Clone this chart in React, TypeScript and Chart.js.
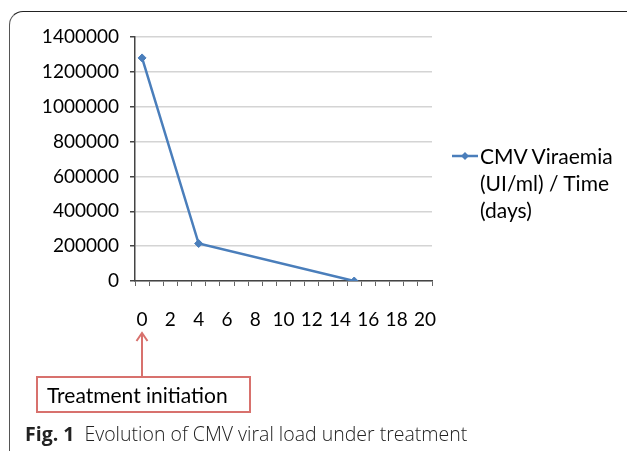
import React, { useEffect, useRef } from "react";
import { Chart, registerables } from "chart.js";

Chart.register(...registerables);

const dayLabels = ["0","1","2","3","4","5","6","7","8","9","10","11","12","13","14","15","16","17","18","19","20"];
const days = ["0", "4", "15"];
const viraemia = [1280000, 215000, 0];
const yTicks = [0, 200000, 400000, 600000, 800000, 1000000, 1200000, 1400000];
const seriesName = ["CMV Viraemia", "(UI/ml) / Time", "(days)"];
const annotationText = "Treatment initiation";
const captionBold = "Fig. 1";
const captionText = "Evolution of CMV viral load under treatment";

const LINE = "#4a7ebb";
const RED = "#d8716d";
const FONT = "Lato, 'Open Sans', sans-serif";

export default function App() {
  const ref = useRef<HTMLCanvasElement | null>(null);

  useEffect(() => {
    if (!ref.current) return;
    const chart = new Chart(ref.current, {
      type: "line",
      data: {
        labels: dayLabels,
        datasets: [
          {
            label: seriesName.join(" "),
            data: days.map((d, i) => ({ x: d, y: viraemia[i] })) as any,
            borderColor: LINE,
            backgroundColor: LINE,
            borderWidth: 2.5,
            pointStyle: "rectRot",
            pointRadius: 4,
            pointBackgroundColor: LINE,
            pointBorderColor: LINE,
            pointBorderWidth: 1,
            tension: 0,
          },
        ],
      },
      options: {
        animation: false,
        responsive: false,
        maintainAspectRatio: false,
        layout: { padding: { top: 37, right: 195, left: 0, bottom: 0 } },
        plugins: { legend: { display: false }, tooltip: { enabled: false } },
        scales: {
          x: {
            type: "category",
            offset: true,
            afterFit: (s: any) => { s.height = 170; },
            grid: {
              offset: true,
              drawOnChartArea: false,
              drawTicks: true,
              tickLength: 5,
              tickColor: "#666",
              tickWidth: 1,
            },
            border: { display: true, color: "#444", width: 1.5 },
            ticks: {
              autoSkip: false,
              maxRotation: 0,
              padding: 22,
              color: "#000",
              font: { family: FONT, size: 19 },
              callback: (_v: any, i: number) => (i % 2 === 0 ? dayLabels[i] : ""),
            },
          },
          y: {
            min: yTicks[0],
            max: yTicks[yTicks.length - 1],
            afterFit: (s: any) => { s.width = 135; },
            afterBuildTicks: (s: any) => { s.ticks = yTicks.map((v) => ({ value: v })); },
            grid: {
              color: "#d4d4d4",
              lineWidth: 1.5,
              drawTicks: true,
              tickLength: 5,
              tickColor: "#444",
            },
            border: { display: true, color: "#444", width: 1.5 },
            ticks: {
              padding: 11,
              color: "#000",
              font: { family: FONT, size: 19 },
              callback: (v: any) => String(v),
            },
          },
        },
      },
    });
    return () => chart.destroy();
  }, []);

  return (
    <div style={{ position: "fixed", left: 0, top: 0, width: 627, height: 451, background: "#fff", overflow: "hidden", fontFamily: FONT }}>
      <div style={{ position: "absolute", left: 9, top: 11, width: 640, height: 460, borderLeft: "1.5px solid #555", borderTop: "1.5px solid #222", borderTopLeftRadius: 14 }} />
      <canvas ref={ref} width={627} height={451} style={{ position: "absolute", left: 0, top: 0, width: 627, height: 451 }} />
      {/* legend */}
      <svg style={{ position: "absolute", left: 450, top: 150 }} width={30} height={12}>
        <line x1={2} y1={6} x2={28} y2={6} stroke={LINE} strokeWidth={2.5} />
        <polygon points="15,2 19,6 15,10 11,6" fill={LINE} />
      </svg>
      <div style={{ position: "absolute", left: 480, top: 142, lineHeight: "27px", fontSize: 21, color: "#000", whiteSpace: "nowrap" }}>
        {seriesName.map((t, i) => (<div key={i}>{t}</div>))}
      </div>
      {/* arrow */}
      <svg style={{ position: "absolute", left: 130, top: 328 }} width={24} height={52}>
        <line x1={12} y1={5} x2={12} y2={50} stroke={RED} strokeWidth={2} />
        <polyline points="6.5,13 12,5 17.5,13" fill="none" stroke={RED} strokeWidth={2} />
      </svg>
      <div style={{ position: "absolute", left: 36, top: 376, width: 215, height: 37, boxSizing: "border-box", border: `2px solid ${RED}`, fontSize: 21, color: "#000", paddingLeft: 9, lineHeight: "34px", whiteSpace: "nowrap" }}>
        {annotationText}
      </div>
      <div style={{ position: "absolute", left: 25, top: 422, fontSize: 19.5, color: "#222", whiteSpace: "nowrap", lineHeight: "24px", fontFamily: "'Open Sans', sans-serif" }}>
        <span style={{ fontWeight: 700 }}>{captionBold}</span>
        <span style={{ fontWeight: 300, marginLeft: 10 }}>{captionText}</span>
      </div>
    </div>
  );
}
